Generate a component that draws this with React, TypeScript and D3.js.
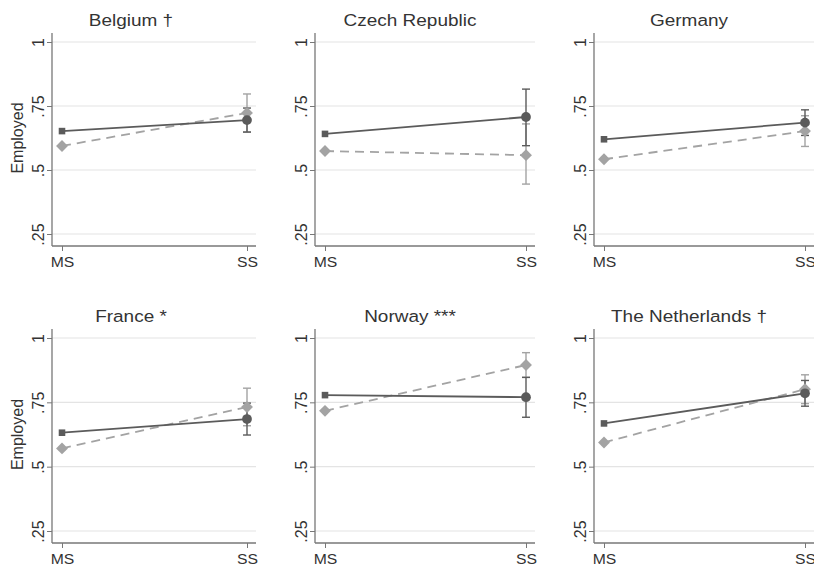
import React, { useEffect, useRef } from "react";
import * as d3 from "d3";

const titles = ["Belgium †", "Czech Republic", "Germany", "France *", "Norway ***", "The Netherlands  †"];
const groups = ["MS", "SS"];
const yTicks = [0.25, 0.5, 0.75, 1];

// dark solid series
const darkMS = [0.652, 0.641, 0.62, 0.632, 0.778, 0.668];
const darkSS = [0.695, 0.707, 0.685, 0.685, 0.77, 0.785];
const darkLo = [0.648, 0.595, 0.635, 0.623, 0.692, 0.735];
const darkHi = [0.742, 0.816, 0.735, 0.747, 0.847, 0.835];

// light dashed series
const lightMS = [0.594, 0.574, 0.542, 0.571, 0.717, 0.594];
const lightSS = [0.723, 0.558, 0.652, 0.732, 0.895, 0.801];
const lightLo = [0.649, 0.445, 0.592, 0.659, 0.847, 0.745];
const lightHi = [0.797, 0.68, 0.712, 0.805, 0.943, 0.857];

const DARK = "#5b5b5b";
const LIGHT = "#a3a3a3";

const App = () => {
  const ref = useRef<SVGSVGElement>(null);

  useEffect(() => {
    const svg = d3.select(ref.current);
    svg.selectAll("*").remove();
    const font = "'Liberation Sans', Arial, sans-serif";

    const colAxis = [52, 315, 594];
    const colRight = [256, 535, 814];
    const rowTop = [42, 338];
    const rowBottom = [234, 531];

    titles.forEach((title, i) => {
      const c = i % 3;
      const r = Math.floor(i / 3);
      const y = d3.scaleLinear().domain([0.25, 1]).range([rowBottom[r], rowTop[r]]);
      const x = d3.scalePoint().domain(groups).range([colAxis[c] + 10, colRight[c] - 9]);
      const g = svg.append("g");
      const ax = colAxis[c];
      const axBottom = y(0.25) + 12;

      // grid
      g.selectAll(".grid")
        .data(yTicks)
        .enter()
        .append("line")
        .attr("x1", ax)
        .attr("x2", colRight[c])
        .attr("y1", (d: number) => y(d))
        .attr("y2", (d: number) => y(d))
        .attr("stroke", "#e4e4e4")
        .attr("stroke-width", 1.2);

      // y axis
      const yAxis = g
        .append("g")
        .attr("transform", "translate(" + ax + ",0)")
        .call(d3.axisLeft(y).tickValues(yTicks).tickSize(5).tickSizeOuter(0).tickFormat((d: any) => (d === 1 ? "1" : d3.format(".2~f")(d).replace(/^0/, ""))));
      yAxis.attr("font-size", 16).attr("font-family", font);
      yAxis.select(".domain").attr("d", "M0," + (y(1) - 9) + "V" + axBottom).attr("stroke", "#777").attr("stroke-width", 1.3);
      yAxis.selectAll(".tick line").attr("stroke", "#777");
      yAxis
        .selectAll("text")
        .attr("transform", "rotate(-90)")
        .attr("x", 0)
        .attr("y", -14)
        .attr("dy", "0.35em")
        .attr("font-size", 16)
        .style("text-anchor", "middle")
        .style("font-size", "16px")
        .attr("fill", "#333");

      // x axis
      const xAxis = g
        .append("g")
        .attr("transform", "translate(0," + axBottom + ")")
        .call(d3.axisBottom(x).tickSize(5).tickSizeOuter(0));
      xAxis.attr("font-size", 15).attr("font-family", font);
      xAxis.select(".domain").attr("d", "M" + ax + ",0H" + colRight[c]).attr("stroke", "#777").attr("stroke-width", 1.3);
      xAxis.selectAll(".tick line").attr("stroke", "#777");
      xAxis
        .selectAll("text")
        .attr("y", 0)
        .attr("dy", 0)
        .attr("transform", "translate(0,21) scale(1.05,1)")
        .attr("fill", "#333");

      // title
      g.append("text")
        .attr("transform", "translate(" + (131 + 279 * c) + "," + (r === 0 ? 26 : 322) + ") scale(1.15,1)")
        .attr("text-anchor", "middle")
        .style("font-family", font)
        .style("font-size", "16.5px")
        .attr("fill", "#333")
        .text(title);

      if (c === 0) {
        g.append("text")
          .attr("transform", "translate(23," + (y(0.25) + y(1)) / 2 + ") rotate(-90)")
          .attr("text-anchor", "middle")
          .style("font-family", font)
          .style("font-size", "16px")
          .attr("fill", "#333")
          .text("Employed");
      }

      const series = [
        { ms: lightMS[i], ss: lightSS[i], lo: lightLo[i], hi: lightHi[i], color: LIGHT, dash: "9,6" },
        { ms: darkMS[i], ss: darkSS[i], lo: darkLo[i], hi: darkHi[i], color: DARK, dash: null },
      ];
      const xs = x("SS") as number;
      const xm = x("MS") as number;

      series.forEach((s) => {
        // error bar at SS
        g.append("line").attr("x1", xs).attr("x2", xs).attr("y1", y(s.lo)).attr("y2", y(s.hi)).attr("stroke", s.color).attr("stroke-width", 1.4);
        [s.lo, s.hi].forEach((v) => {
          g.append("line").attr("x1", xs - 4).attr("x2", xs + 4).attr("y1", y(v)).attr("y2", y(v)).attr("stroke", s.color).attr("stroke-width", 1.4);
        });
      });

      series.forEach((s) => {
        const line = d3.line<[number, number]>();
        g.append("path")
          .attr("d", line([[xm, y(s.ms)], [xs, y(s.ss)]]))
          .attr("stroke", s.color)
          .attr("stroke-width", 1.8)
          .attr("fill", "none")
          .attr("stroke-dasharray", s.dash);
      });

      // markers
      const diamond = d3.symbol().type(d3.symbolDiamond2).size(90);
      const square = d3.symbol().type(d3.symbolSquare2).size(55);
      const circle = d3.symbol().type(d3.symbolCircle).size(75);
      g.append("path").attr("d", diamond()).attr("transform", "translate(" + xm + "," + y(lightMS[i]) + ")").attr("fill", LIGHT);
      g.append("path").attr("d", diamond()).attr("transform", "translate(" + xs + "," + y(lightSS[i]) + ")").attr("fill", LIGHT);
      g.append("path").attr("d", square()).attr("transform", "translate(" + xm + "," + y(darkMS[i]) + ")").attr("fill", DARK);
      g.append("path").attr("d", circle()).attr("transform", "translate(" + xs + "," + y(darkSS[i]) + ")").attr("fill", DARK);
    });
  }, []);

  return <svg ref={ref} width={814} height={567} style={{ position: "absolute", left: 0, top: 0, background: "#fff" }} />;
};

export default App;
